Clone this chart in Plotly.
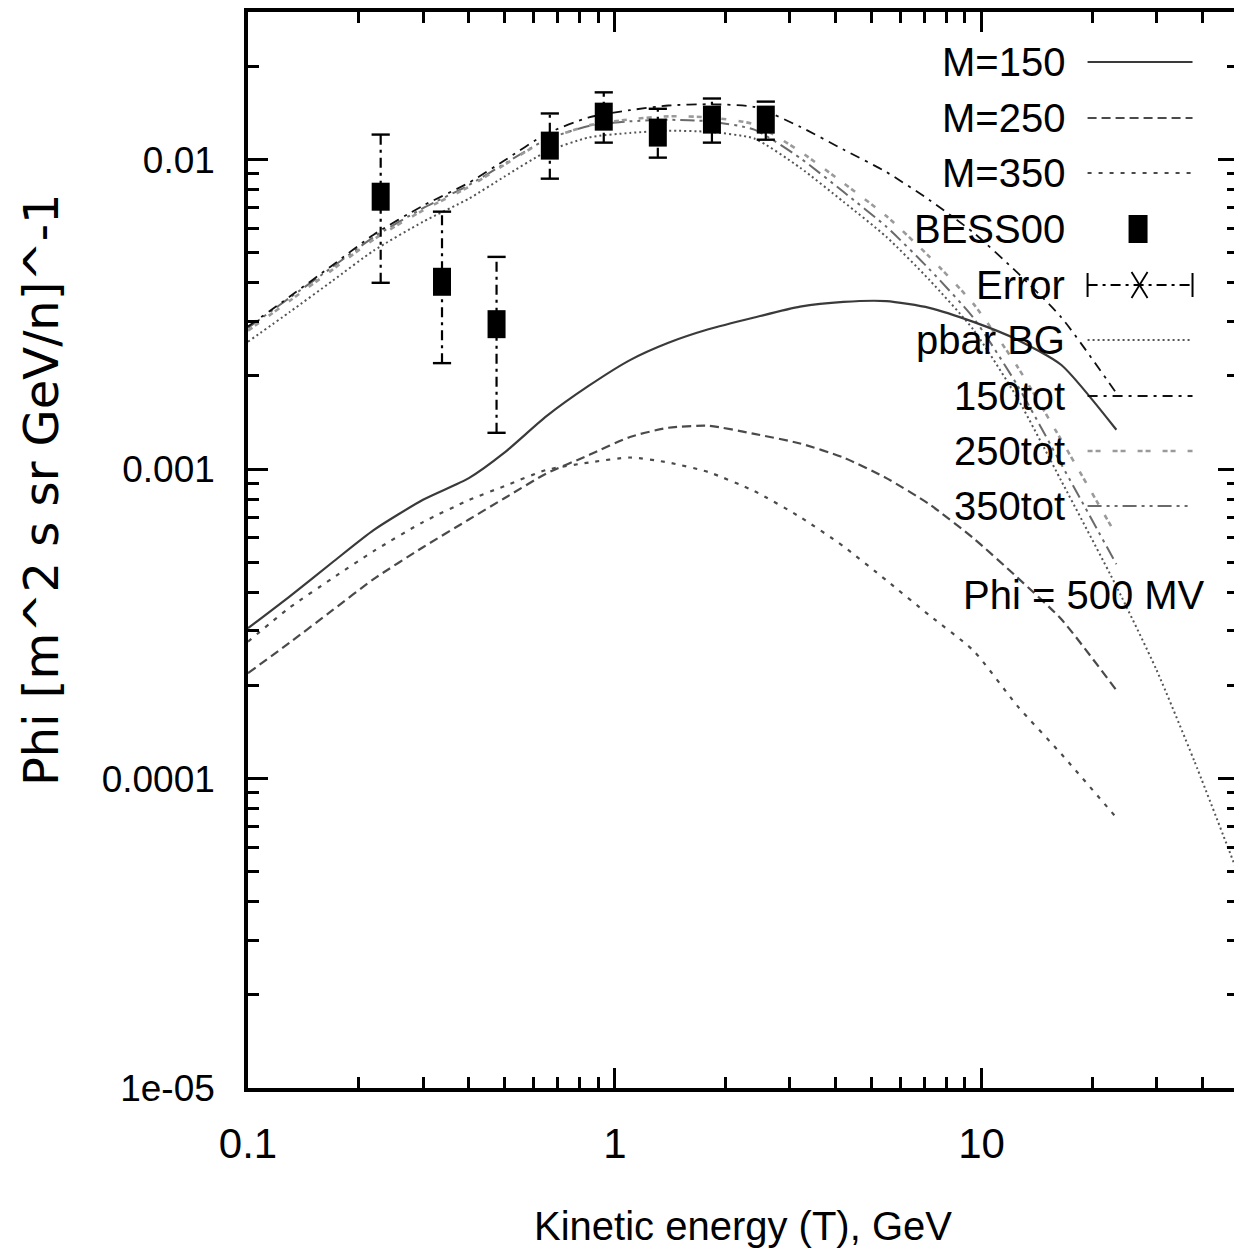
import math
import plotly.graph_objects as go

# ---------------- data ----------------
energy = [0.1, 0.13, 0.17, 0.22, 0.3, 0.4, 0.5, 0.65, 0.85, 1.1, 1.4, 1.8,
          2.4, 3.2, 4.2, 5.5, 7.2, 9.5, 12.5, 16.5, 23.3]
m150 = [3.06e-4, 3.88e-4, 5.0e-4, 6.35e-4, 7.96e-4, 9.35e-4, 1.13e-3, 1.48e-3,
        1.86e-3, 2.25e-3, 2.56e-3, 2.83e-3, 3.09e-3, 3.35e-3, 3.47e-3, 3.49e-3,
        3.32e-3, 2.99e-3, 2.62e-3, 2.17e-3, 1.34e-3]
m250 = [2.19e-4, 2.75e-4, 3.50e-4, 4.41e-4, 5.59e-4, 6.87e-4, 8.05e-4, 9.67e-4,
        1.11e-3, 1.27e-3, 1.36e-3, 1.38e-3, 1.30e-3, 1.21e-3, 1.09e-3, 9.35e-4,
        7.70e-4, 5.98e-4, 4.47e-4, 3.27e-4, 1.93e-4]
m350 = [2.77e-4, 3.57e-4, 4.44e-4, 5.43e-4, 6.74e-4, 7.94e-4, 8.81e-4, 9.93e-4,
        1.05e-3, 1.09e-3, 1.05e-3, 9.78e-4, 8.49e-4, 7.0e-4, 5.63e-4, 4.37e-4,
        3.37e-4, 2.59e-4, 1.72e-4, 1.20e-4, 7.48e-5]
bg_energy = [0.1, 0.13, 0.17, 0.22, 0.3, 0.4, 0.5, 0.65, 0.85, 1.1, 1.4, 1.8,
             2.4, 3.2, 4.2, 5.5, 7.2, 9.5, 12.5, 16.5, 23.3, 30, 38, 50]
pbar_bg = [2.58e-3, 3.22e-3, 4.06e-3, 5.08e-3, 6.30e-3, 7.48e-3, 8.81e-3, 1.06e-2,
           1.18e-2, 1.22e-2, 1.24e-2, 1.23e-2, 1.17e-2, 9.42e-3, 7.31e-3, 5.63e-3,
           4.09e-3, 2.82e-3, 1.70e-3, 9.15e-4, 4.18e-4, 2.24e-4, 1.14e-4, 4.93e-5]
tot150 = [2.89e-3, 3.61e-3, 4.56e-3, 5.72e-3, 7.10e-3, 8.42e-3, 9.94e-3, 1.21e-2,
          1.37e-2, 1.445e-2, 1.496e-2, 1.51e-2, 1.48e-2, 1.277e-2, 1.078e-2, 9.12e-3,
          7.41e-3, 5.81e-3, 4.32e-3, 3.09e-3, 1.76e-3]
tot250 = [2.80e-3, 3.50e-3, 4.41e-3, 5.52e-3, 6.86e-3, 8.17e-3, 9.62e-3, 1.157e-2,
          1.29e-2, 1.35e-2, 1.38e-2, 1.37e-2, 1.30e-2, 1.063e-2, 8.40e-3, 6.57e-3,
          4.86e-3, 3.42e-3, 2.15e-3, 1.24e-3, 6.11e-4]
tot350 = [2.86e-3, 3.58e-3, 4.50e-3, 5.62e-3, 6.97e-3, 8.27e-3, 9.69e-3, 1.16e-2,
          1.285e-2, 1.33e-2, 1.345e-2, 1.33e-2, 1.25e-2, 1.012e-2, 7.87e-3, 6.07e-3,
          4.43e-3, 3.08e-3, 1.87e-3, 1.035e-3, 4.93e-4]

bess_T = [0.230, 0.338, 0.476, 0.665, 0.933, 1.31, 1.84, 2.58]
bess_flux = [7.59e-3, 4.03e-3, 2.94e-3, 1.11e-2, 1.377e-2, 1.223e-2, 1.347e-2, 1.347e-2]
bess_upper = [1.205e-2, 6.79e-3, 4.85e-3, 1.41e-2, 1.65e-2, 1.46e-2, 1.576e-2, 1.54e-2]
bess_lower = [4.0e-3, 2.20e-3, 1.31e-3, 8.68e-3, 1.135e-2, 1.015e-2, 1.135e-2, 1.16e-2]

x_tickvals = [0.1, 1, 10]
x_ticktext = ["0.1", "1", "10"]
y_tickvals = [1e-5, 1e-4, 1e-3, 1e-2]
y_ticktext = ["1e-05", "0.0001", "0.001", "0.01"]

legend_labels = ["M=150", "M=250", "M=350", "BESS00", "Error", "pbar BG",
                 "150tot", "250tot", "350tot"]

# ---------------- styles ----------------
REG = "Liberation Sans, Arial, sans-serif"
WIDE = "DejaVu Sans, Liberation Sans, sans-serif"

styles = {
    "M=150": dict(color="#3a3a3a", width=2.2, dash="solid"),
    "M=250": dict(color="#4a4a4a", width=2.2, dash="9px,5px"),
    "M=350": dict(color="#4a4a4a", width=2.2, dash="4px,7px"),
    "pbar BG": dict(color="#555555", width=2.0, dash="2px,3px"),
    "150tot": dict(color="#111111", width=1.8, dash="10px,6px,3px,6px"),
    "250tot": dict(color="#9a9a9a", width=2.6, dash="5px,3px,5px,12px"),
    "350tot": dict(color="#6a6a6a", width=2.0, dash="14px,5px,3px,5px,3px,5px"),
}
ERR_DASH = "10px,5px,3px,5px"

fig = go.Figure()

def add_curve(xs, ys, name):
    fig.add_trace(go.Scatter(x=xs, y=ys, mode="lines", name=name,
                             line=dict(shape="spline", smoothing=0.6, **styles[name]),
                             showlegend=False))

add_curve(bg_energy, pbar_bg, "pbar BG")
add_curve(energy, tot350, "350tot")
add_curve(energy, tot250, "250tot")
add_curve(energy, tot150, "150tot")
add_curve(energy, m350, "M=350")
add_curve(energy, m250, "M=250")
add_curve(energy, m150, "M=150")

# error bars: dash-dot vertical segments with short caps (gnuplot style)
bar_x, bar_y = [], []
for t, lo, hi in zip(bess_T, bess_lower, bess_upper):
    bar_x += [t, t, None]
    bar_y += [lo, hi, None]
fig.add_trace(go.Scatter(x=bar_x, y=bar_y, mode="lines", showlegend=False,
                         line=dict(color="black", width=2.2, dash=ERR_DASH)))
fig.add_trace(go.Scatter(x=bess_T + bess_T, y=bess_upper + bess_lower, mode="markers",
                         showlegend=False,
                         marker=dict(symbol="line-ew", size=13, color="black",
                                     line=dict(color="black", width=2.4))))
fig.add_trace(go.Scatter(
    x=bess_T, y=bess_flux, mode="markers", name="BESS00", showlegend=False,
    marker=dict(symbol="line-ns", size=20, color="black",
                line=dict(color="black", width=18)),
))

# ---------------- axes ----------------
axis_common = dict(
    type="log", showline=True, linecolor="black", linewidth=3.5, mirror="ticks",
    ticks="inside", ticklen=20, tickwidth=2.5, tickcolor="black",
    showgrid=False, zeroline=False, automargin=False,
    minor=dict(ticks="inside", ticklen=11, tickwidth=2.5, tickcolor="black",
               dtick="D1", showgrid=False),
)
fig.update_xaxes(range=[-1, math.log10(50)], tickvals=x_tickvals, ticktext=x_ticktext,
                 tickfont=dict(family=REG, size=42, color="black"),
                 ticklabelstandoff=16, **axis_common)
fig.update_yaxes(range=[-5, math.log10(0.03)], tickvals=y_tickvals, ticktext=y_ticktext,
                 tickfont=dict(family=REG, size=37, color="black"),
                 ticklabelstandoff=22, **axis_common)

# ---------------- layout geometry ----------------
# The page body adds an 8 px margin, so the figure is made 8 px smaller
# and the plot frame is placed so it lands where the reference frame is.
OFF = 8
W, H = 1242 - OFF, 1257 - OFF
L, R, T, B = 248, 1238.5, 12, 1088      # frame edges in page pixels

def px(xp):
    return (xp - L) / (R - L)
def py(yp):
    return (B - yp) / (B - T)

row_y = [62, 118, 173, 229, 285, 340, 396, 451, 506]
text_right = 1067
s0, s1 = 1088, 1193
annotations = []
shapes = []
for lab, yv in zip(legend_labels, row_y):
    annotations.append(dict(x=px(text_right), y=py(yv), xref="paper", yref="paper",
                            text=lab, showarrow=False, xanchor="right", yanchor="middle",
                            font=dict(family=REG, size=40, color="black")))
    if lab in styles:
        st = styles[lab]
        shapes.append(dict(type="line", xref="paper", yref="paper",
                           x0=px(s0), x1=px(s1), y0=py(yv), y1=py(yv),
                           line=dict(color=st["color"], width=st["width"], dash=st["dash"])))
    elif lab == "BESS00":
        shapes.append(dict(type="rect", xref="paper", yref="paper",
                           x0=px(1129), x1=px(1148), y0=py(243), y1=py(215),
                           fillcolor="black", line=dict(width=0)))
    elif lab == "Error":
        shapes.append(dict(type="line", xref="paper", yref="paper",
                           x0=px(s0), x1=px(s1), y0=py(yv), y1=py(yv),
                           line=dict(color="black", width=1.8, dash=ERR_DASH)))
        for xe in (s0, s1):
            shapes.append(dict(type="line", xref="paper", yref="paper",
                               x0=px(xe), x1=px(xe), y0=py(yv - 12), y1=py(yv + 12),
                               line=dict(color="black", width=2)))
        shapes.append(dict(type="line", xref="paper", yref="paper",
                           x0=px(1132), x1=px(1148), y0=py(yv - 13), y1=py(yv + 13),
                           line=dict(color="black", width=1.8)))
        shapes.append(dict(type="line", xref="paper", yref="paper",
                           x0=px(1132), x1=px(1148), y0=py(yv + 13), y1=py(yv - 13),
                           line=dict(color="black", width=1.8)))

annotations.append(dict(x=px(1207), y=py(595), xref="paper", yref="paper",
                        text="Phi = 500 MV", showarrow=False, xanchor="right",
                        yanchor="middle", font=dict(family=REG, size=40, color="black")))
# axis titles
annotations.append(dict(x=px(743), y=py(1226), xref="paper", yref="paper",
                        text="Kinetic energy (T), GeV", showarrow=False,
                        xanchor="center", yanchor="middle",
                        font=dict(family=REG, size=40, color="black")))
annotations.append(dict(x=px(41), y=py(490), xref="paper", yref="paper",
                        text="Phi [m^2 s sr GeV/n]^-1", showarrow=False, textangle=-90,
                        xanchor="center", yanchor="middle",
                        font=dict(family=WIDE, size=48, color="black")))

fig.update_layout(
    width=W, height=H,
    margin=dict(l=L - OFF, r=W - (R - OFF), t=T - OFF, b=H - (B - OFF)),
    plot_bgcolor="white", paper_bgcolor="white",
    showlegend=False, annotations=annotations, shapes=shapes,
)

fig.write_html("out.html")
